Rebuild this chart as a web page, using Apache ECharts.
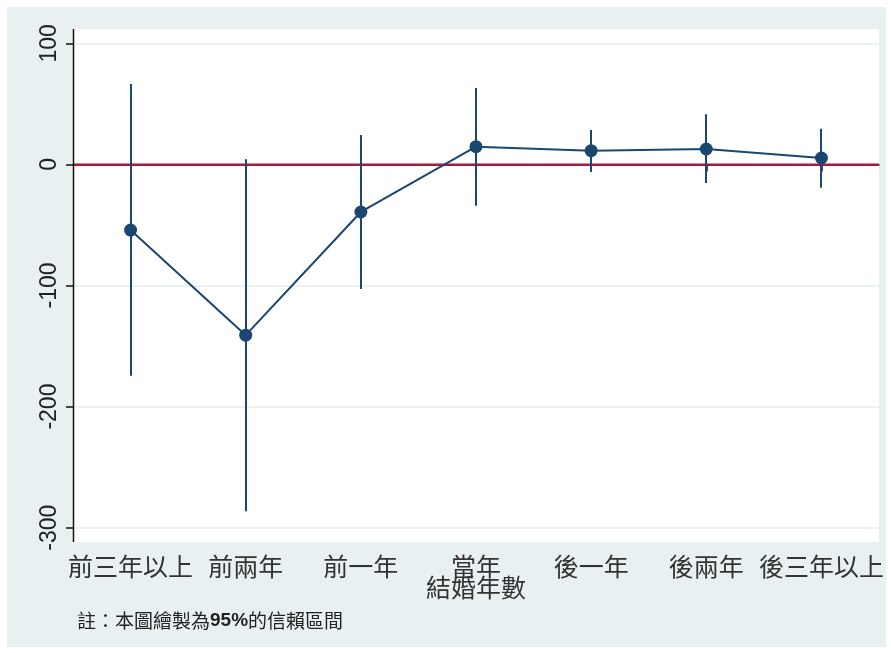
<!DOCTYPE html>
<html>
<head>
<meta charset="utf-8">
<script src="https://cdn.jsdelivr.net/npm/echarts@6/dist/echarts.min.js"></script>
<style>
  html, body { margin: 0; padding: 0; background: #ffffff; }
  #chart { width: 891px; height: 653px; }
</style>
</head>
<body>
<div id="chart"></div>
<script>
// Categories: years relative to marriage
const categories = ['前三年以上', '前兩年', '前一年', '當年', '後一年', '後兩年', '後三年以上'];
// Point estimates
const estimates = [-54.2, -141.0, -39.3, 14.6, 11.3, 12.7, 5.3];
// 95% confidence interval bounds
const ciLower = [-174.5, -286.4, -102.9, -34.1, -6.3, -15.4, -19.2];
const ciUpper = [66.4, 4.3, 24.3, 63.1, 28.4, 41.4, 29.5];
// Y axis ticks
const yTicks = { min: -300, max: 100, step: 100 };
// Reference line value
const refValue = [0];

const navy = '#1A476F';
const ciData = categories.map((c, i) => [i, ciLower[i], ciUpper[i]]);

const chart = echarts.init(document.getElementById('chart'), null, { renderer: 'canvas' });

chart.setOption({
  backgroundColor: '#ffffff',
  animation: false,
  tooltip: { show: false },
  graphic: [
    { type: 'rect', z: -20, shape: { x: 7, y: 7, width: 879, height: 640 }, style: { fill: '#E9F0F2' }, silent: true },
    { type: 'rect', z: -19, shape: { x: 73, y: 29, width: 806, height: 513 }, style: { fill: '#ffffff' }, silent: true },
    { type: 'line', z: 5, shape: { x1: 73.5, y1: 29, x2: 73.5, y2: 542 }, style: { stroke: '#111111', lineWidth: 1.5 }, silent: true },
    {
      type: 'text', z: 5, left: 77, top: 611,
      style: {
        text: '{a|註：本圖繪製為}{b|95%}{a|的信賴區間}',
        rich: {
          a: { fontFamily: '"Noto Sans CJK TC", sans-serif', fontSize: 19, fill: '#222222' },
          b: { fontFamily: 'Arial, "Liberation Sans", sans-serif', fontSize: 19, fontWeight: 'bold', fill: '#222222' }
        }
      }
    }
  ],
  grid: { left: 73, right: 12, top: 43.3, bottom: 125.3, containLabel: false },
  xAxis: {
    type: 'category',
    data: categories,
    boundaryGap: true,
    offset: 14.4,
    axisLine: { show: true, lineStyle: { color: '#111111', width: 1.5 } },
    axisTick: { show: true, alignWithLabel: true, length: 7, lineStyle: { color: '#111111', width: 1.5 } },
    axisLabel: { interval: 0, margin: 12, fontSize: 25, color: '#333333', fontFamily: '"Noto Sans CJK TC", sans-serif' },
    name: '結婚年數',
    nameLocation: 'middle',
    nameGap: 33,
    nameMoveOverlap: false,
    nameTextStyle: { fontSize: 25, color: '#333333', fontFamily: '"Noto Sans CJK TC", sans-serif' },
    splitLine: { show: false }
  },
  yAxis: {
    type: 'value',
    min: yTicks.min,
    max: yTicks.max,
    interval: yTicks.step,
    axisLine: { show: false },
    axisTick: { show: true, length: 7, lineStyle: { color: '#111111', width: 1.5 } },
    axisLabel: { rotate: 90, margin: 12, fontSize: 23, color: '#222222', fontFamily: 'Arial, "Liberation Sans", sans-serif' },
    splitLine: { show: true, lineStyle: { color: '#E6EEF0', width: 1.5 } }
  },
  series: [
    {
      // horizontal reference line at zero, spanning the plot width
      type: 'custom',
      z: 1,
      silent: true,
      data: refValue.map(v => [0, v]),
      renderItem: function (params, api) {
        const cs = params.coordSys;
        const y = api.coord([0, api.value(1)])[1];
        return {
          type: 'line',
          shape: { x1: cs.x, y1: y, x2: cs.x + cs.width, y2: y },
          style: { stroke: '#C10D37', lineWidth: 2 }
        };
      }
    },
    {
      // confidence interval spikes
      type: 'custom',
      z: 10,
      silent: true,
      data: ciData,
      renderItem: function (params, api) {
        const p1 = api.coord([api.value(0), api.value(1)]);
        const p2 = api.coord([api.value(0), api.value(2)]);
        const x = Math.round(p1[0]);
        return {
          type: 'line',
          shape: { x1: x, y1: p1[1], x2: x, y2: p2[1] },
          style: { stroke: navy, lineWidth: 2 }
        };
      }
    },
    {
      type: 'line',
      z: 4,
      silent: true,
      data: estimates,
      symbol: 'circle',
      symbolSize: 13,
      showAllSymbol: true,
      lineStyle: { color: navy, width: 2 },
      itemStyle: { color: navy }
    }
  ]
});
</script>
</body>
</html>
